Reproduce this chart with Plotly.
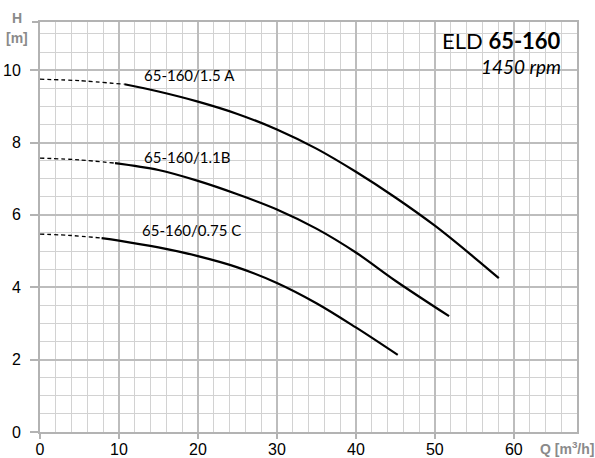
import plotly.graph_objects as go

# ---- data ----
# Curve A: 65-160/1.5 A  (dashed section, then solid section)
qA_dash = [0, 5, 10.7]
hA_dash = [9.75, 9.71, 9.61]
qA = [10.7, 15, 20, 25, 30, 35, 40, 45, 50, 55, 58.1]
hA = [9.61, 9.41, 9.13, 8.79, 8.36, 7.83, 7.19, 6.48, 5.70, 4.82, 4.25]

# Curve B: 65-160/1.1B
qB_dash = [0, 5, 9.5]
hB_dash = [7.57, 7.52, 7.43]
qB = [9.5, 15, 20, 25, 30, 35, 40, 45, 51.8]
hB = [7.43, 7.24, 6.94, 6.57, 6.15, 5.62, 4.96, 4.18, 3.20]

# Curve C: 65-160/0.75 C
qC_dash = [0, 4, 7.8]
hC_dash = [5.47, 5.43, 5.36]
qC = [7.8, 10, 15, 20, 25, 30, 35, 40, 45.3]
hC = [5.36, 5.29, 5.10, 4.86, 4.55, 4.12, 3.56, 2.89, 2.13]

curve_labels = ["65-160/1.5 A", "65-160/1.1B", "65-160/0.75 C"]
label_q = [12.9, 12.9, 12.7]
label_h = [9.86, 7.6, 5.58]

x_ticks = [0, 10, 20, 30, 40, 50, 60]
y_ticks = [0, 2, 4, 6, 8, 10]

fig = go.Figure()
for qd, hd, q, h in [(qA_dash, hA_dash, qA, hA), (qB_dash, hB_dash, qB, hB), (qC_dash, hC_dash, qC, hC)]:
    fig.add_trace(go.Scatter(x=qd, y=hd, mode="lines",
                             line=dict(color="black", width=1.3, dash="4px,3px", shape="spline", smoothing=0.6),
                             showlegend=False, hoverinfo="skip"))
    fig.add_trace(go.Scatter(x=q, y=h, mode="lines",
                             line=dict(color="black", width=2.2, shape="spline", smoothing=1.0),
                             showlegend=False))

for t, xq, yh in zip(curve_labels, label_q, label_h):
    fig.add_annotation(x=xq, y=yh, text=t, showarrow=False, xanchor="left", yanchor="middle",
                       font=dict(family="Lato", size=15, color="black"))

fig.add_annotation(xref="paper", yref="paper", x=0.973, y=0.954, xanchor="right", yanchor="middle",
                   text="ELD <b>65-160</b>", showarrow=False,
                   font=dict(family="Lato", size=22, color="black"))
fig.add_annotation(xref="paper", yref="paper", x=0.973, y=0.891, xanchor="right", yanchor="middle",
                   text="<i>1450 rpm</i>", showarrow=False,
                   font=dict(family="Lato", size=19, color="black"))

# axis titles
grey = "#8a8a8a"
fig.add_annotation(xref="paper", yref="paper", x=-0.043, y=1.01, xanchor="center", yanchor="middle",
                   text="<b>H</b>", showarrow=False, font=dict(family="Liberation Sans", size=14, color=grey))
fig.add_annotation(xref="paper", yref="paper", x=-0.043, y=0.962, xanchor="center", yanchor="middle",
                   text="<b>[m]</b>", showarrow=False, font=dict(family="Liberation Sans", size=14, color=grey))
fig.add_annotation(xref="paper", yref="paper", x=1.0 + 19/537, y=-0.04, xanchor="right", yanchor="middle",
                   text="<b>Q [m<sup>3</sup>/h]</b>", showarrow=False, font=dict(family="Liberation Sans", size=14, color=grey))

# small tick extension of top border
fig.add_shape(type="line", xref="paper", yref="paper", x0=-8/537, x1=0, y0=1, y1=1,
              line=dict(color="#b0b0b0", width=2))

axis_line = "#b3b3b3"
fig.update_xaxes(range=[0, 68], tickvals=x_ticks, ticks="outside", ticklen=5, tickcolor=axis_line, tickwidth=2,
                 showline=True, linecolor=axis_line, linewidth=2, mirror=True,
                 showgrid=True, gridcolor="#bdbdbd", gridwidth=1.5,
                 minor=dict(dtick=2, showgrid=True, gridcolor="#d2d2d2", gridwidth=1.3),
                 zeroline=False, ticklabelstandoff=-3, automargin=False,
                 tickfont=dict(family="Liberation Sans", size=16, color="black"))
fig.update_yaxes(range=[0, 11.33], tickvals=y_ticks, ticks="outside", ticklen=8, tickcolor=axis_line, tickwidth=2,
                 showline=True, linecolor=axis_line, linewidth=2, mirror=True,
                 showgrid=True, gridcolor="#bdbdbd", gridwidth=1.5,
                 minor=dict(dtick=0.5, showgrid=True, gridcolor="#d2d2d2", gridwidth=1.3),
                 zeroline=False, ticklabelstandoff=6, automargin=False,
                 tickfont=dict(family="Liberation Sans", size=16, color="black"))

fig.update_layout(width=595, height=458, margin=dict(l=40, r=18, t=22, b=26, autoexpand=False),
                  plot_bgcolor="white", paper_bgcolor="white", showlegend=False)

fig.write_html("out.html", config={"displayModeBar": False},
               post_script="document.body.style.margin='0';document.body.style.padding='0';document.body.style.overflow='hidden';")
